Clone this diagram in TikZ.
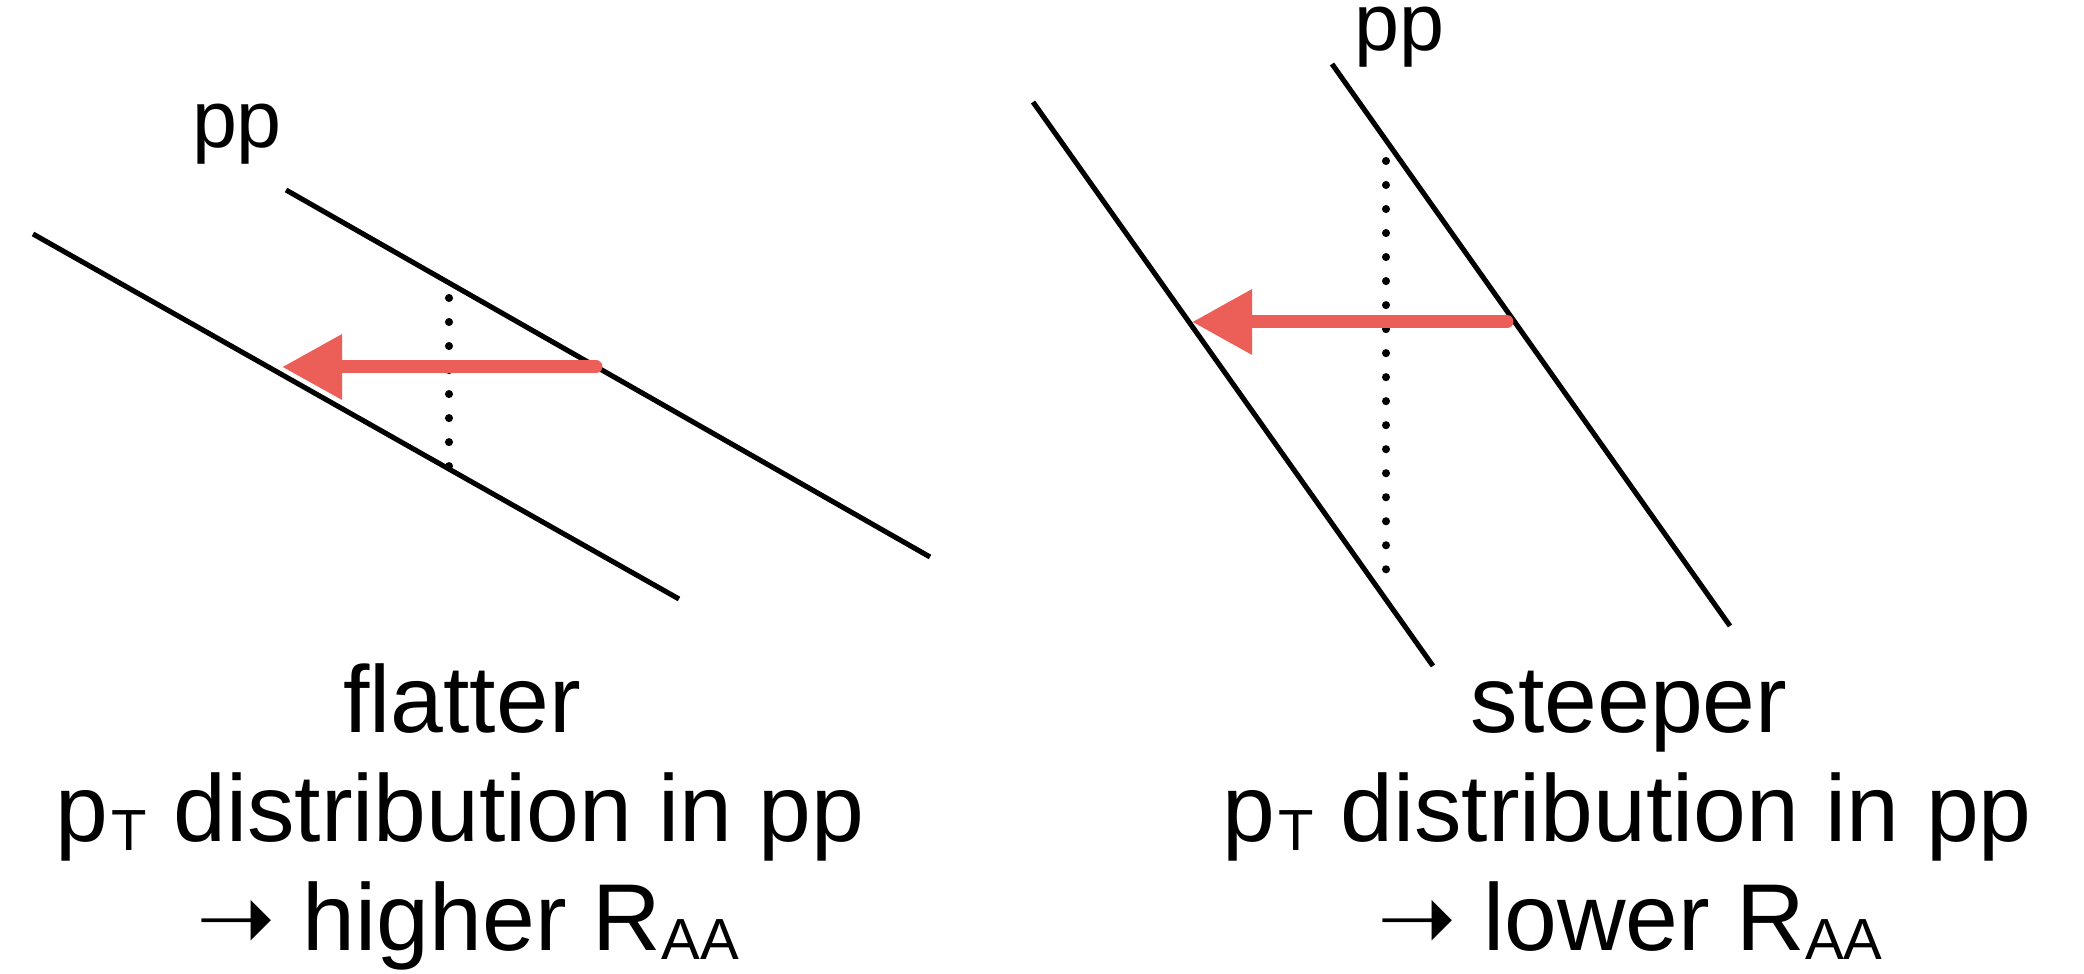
\documentclass[tikz,border=0pt]{standalone}
\usepackage{fontspec}
\setmainfont{Liberation Sans}
\newfontfamily\arrowfont{DejaVu Sans}
\usetikzlibrary{arrows.meta}
\definecolor{arrowred}{HTML}{EC5F59}
\newcommand{\lowsub}[1]{\raisebox{-2.5pt}{\fontsize{16.5}{16.5}\selectfont #1}}
\newcommand{\bigarrow}{{\arrowfont ➝}}
\begin{document}
\begin{tikzpicture}[x=0.01cm,y=-0.01cm,
  spectrum/.style={line width=1.45pt,black},
  dotline/.style={line width=2.3pt,line cap=round,dash pattern=on 0pt off 6.83pt},
  shiftarrow/.style={arrowred,line width=3.7pt,line cap=round,
    -{Triangle[length=0.6cm,width=0.62cm]}},
  lbl/.style={font=\fontsize{27}{27}\selectfont,inner sep=0pt,anchor=base},
  pplbl/.style={font=\fontsize{23}{23}\selectfont,inner sep=0pt,anchor=base,text height=1.1ex}]
\useasboundingbox (0,0) rectangle (2084,974);
% left panel
\coordinate (a1) at (33,234);
\coordinate (a2) at (679,599);
\coordinate (b1) at (286,190);
\coordinate (b2) at (930,557);
\coordinate (d1) at (449,298);
\coordinate (d2) at (449,467);
\coordinate (s1) at (596,367);
\coordinate (t1) at (282,367);
\draw[spectrum] (a1) -- (a2);
\draw[spectrum] (b1) -- (b2);
\draw[dotline] (d1) -- (d2);
\draw[shiftarrow] (s1) -- (t1);
\node[pplbl] (ppl) at (237,148) {pp};
% right panel
\coordinate (c1) at (1033,102);
\coordinate (c2) at (1433,666);
\coordinate (e1) at (1332,64);
\coordinate (e2) at (1730,626);
\coordinate (f1) at (1386,161);
\coordinate (f2) at (1386,570);
\coordinate (s2) at (1507,322);
\coordinate (t2) at (1192,322);
\draw[spectrum] (c1) -- (c2);
\draw[spectrum] (e1) -- (e2);
\draw[dotline] (f1) -- (f2);
\draw[shiftarrow] (s2) -- (t2);
\node[pplbl] (ppr) at (1399,51) {pp};
% captions
\node[lbl] (l1) at (462,733) {flatter};
\node[lbl] (l2) at (460,842) {p\kern1pt\lowsub{T} distribution in pp};
\node[lbl] (l3) at (468,951) {\bigarrow\ higher R\lowsub{AA}};
\node[lbl] (r1) at (1629,733) {steeper};
\node[lbl] (r2) at (1627,842) {p\kern1pt\lowsub{T} distribution in pp};
\node[lbl] (r3) at (1630,951) {\bigarrow\ lower R\lowsub{AA}};
\end{tikzpicture}
\end{document}
